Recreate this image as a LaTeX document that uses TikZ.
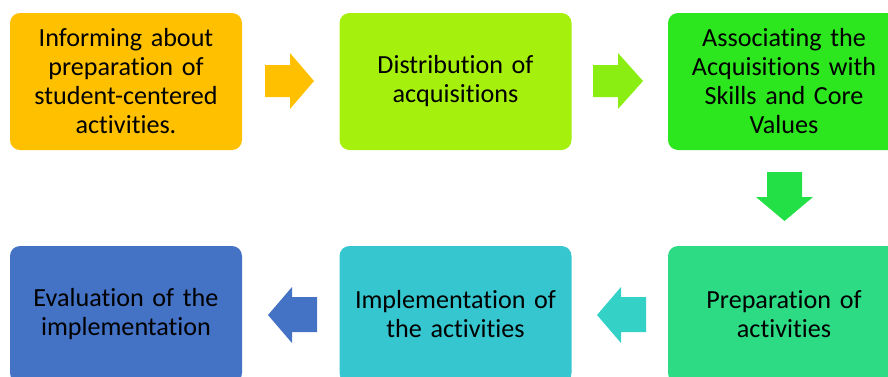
\documentclass[tikz,border=0pt]{standalone}
\usepackage{fontspec}
\setmainfont[Ligatures={NoCommon,NoContextual}]{Carlito}
\newlength{\du}
\setlength{\du}{0.75pt}
\definecolor{informcolor}{HTML}{FFC000}
\definecolor{distribcolor}{HTML}{A6F00E}
\definecolor{distribarrow}{HTML}{8AEE12}
\definecolor{assoccolor}{HTML}{2CE61E}
\definecolor{assocarrow}{HTML}{22E046}
\definecolor{prepcolor}{HTML}{2CDB84}
\definecolor{preparrow}{HTML}{33D1C6}
\definecolor{implcolor}{HTML}{35C6D0}
\definecolor{evalcolor}{HTML}{4472C4}
\tikzset{
  stepbox/.style={rounded corners=10\du, minimum width=232\du, minimum height=137\du,
    text width=220\du, align=center, inner sep=0pt,
    font=\fontsize{19.6}{21.75}\selectfont}
}

\begin{document}
\begin{tikzpicture}
\pgftransformxscale{1.000000}
\pgftransformyscale{-1.000000}
\useasboundingbox (0\du,0\du) rectangle (888\du,376\du);
\clip (0\du,0\du) rectangle (888\du,376\du);
% top row
\node[stepbox, fill=informcolor] (inform) at (126\du,81.5\du){Informing about\\preparation of\\student-centered\\activities.};
\node[stepbox, fill=distribcolor] (distrib) at (455.5\du,81.5\du){Distribution of\\acquisitions};
\node[stepbox, fill=assoccolor] (assoc) at (784\du,81.5\du){Associating the\\Acquisitions with\\Skills and Core\\Values};
% bottom row
\node[stepbox, fill=prepcolor] (prep) at (784\du,314.5\du){Preparation of\\activities};
\node[stepbox, fill=implcolor] (impl) at (455.5\du,314.5\du){Implementation of\\the activities};
\node[stepbox, fill=evalcolor] (eval) at (126\du,314.5\du){Evaluation of the\\implementation};
% block arrows
\fill[informcolor] (265\du,65\du) -- (290\du,65\du) -- (290\du,53\du) -- (314\du,81\du)
  -- (290\du,109\du) -- (290\du,97\du) -- (265\du,97\du) -- cycle;
\fill[distribarrow] (593\du,65\du) -- (618\du,65\du) -- (618\du,53\du) -- (643\du,81\du)
  -- (618\du,109\du) -- (618\du,97\du) -- (593\du,97\du) -- cycle;
\fill[assocarrow] (767\du,172\du) -- (802\du,172\du) -- (802\du,197\du) -- (813\du,197\du)
  -- (784.5\du,221\du) -- (756\du,197\du) -- (767\du,197\du) -- cycle;
\fill[preparrow] (646\du,297\du) -- (621\du,297\du) -- (621\du,287\du) -- (597\du,315\du)
  -- (621\du,343\du) -- (621\du,332\du) -- (646\du,332\du) -- cycle;
\fill[evalcolor] (317\du,297\du) -- (292\du,297\du) -- (292\du,287\du) -- (268\du,315\du)
  -- (292\du,343\du) -- (292\du,332\du) -- (317\du,332\du) -- cycle;
\end{tikzpicture}
\end{document}
